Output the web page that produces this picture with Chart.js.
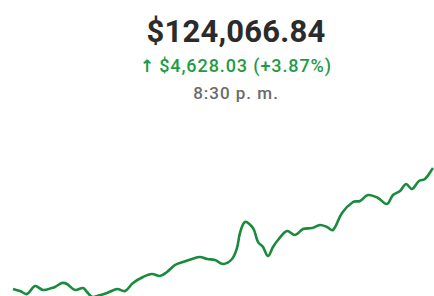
<!DOCTYPE html>
<html><head><meta charset="utf-8">
<script src="https://cdn.jsdelivr.net/npm/chart.js@4/dist/chart.umd.min.js"></script>
<style>
html,body{margin:0;padding:0;background:#fff;width:434px;height:296px;overflow:hidden;position:relative;}
.t{position:absolute;left:0;width:472px;text-align:center;font-family:Roboto,"Noto Sans",sans-serif;white-space:nowrap;}
#val{top:13px;font-size:31px;font-weight:700;color:#2b2b2b;letter-spacing:0.2px;}
#chg{top:55px;font-size:18px;font-weight:500;color:#1f9a46;letter-spacing:0.9px;}
#chg b{font-family:"DejaVu Sans",sans-serif;font-weight:700;font-size:17px;margin-right:4px;}
#time{top:83px;font-size:17px;font-weight:500;color:#6b6b6b;letter-spacing:1px;}
#wrap{position:absolute;left:0;top:150px;width:434px;height:150px;}
</style></head><body>
<div class="t" id="val">$124,066.84</div>
<div class="t" id="chg"><b>↑</b>$4,628.03 (+3.87%)</div>
<div class="t" id="time">8:30 p. m.</div>
<div id="wrap"><canvas id="c"></canvas></div>
<script>
const times = [13,20,27,35,43,52,55,62,67,75,83,87,92,97,107,117,125,133,143,152,160,167,175,183,192,200,207,215,223,232,237,240,245,253,258,263,268,273,278,287,295,303,312,320,327,333,342,353,360,368,378,387,393,400,406,412,419,425,433];
const values = [119439,119362,119247,119553,119401,119477,119515,119668,119630,119401,119477,119324,119133,119171,119286,119439,119362,119668,119898,120012,119936,120089,120357,120472,120586,120663,120586,120548,120395,120586,121007,121581,122002,121772,121237,121045,120701,121045,121313,121657,121504,121734,121772,121887,121810,121695,122346,122766,122805,123034,122920,122690,123034,123187,123455,123264,123570,123646,124067];
const pts = times.map((t,i)=>({x:t,y:values[i]}));
new Chart(document.getElementById('c'),{
  type:'line',
  data:{datasets:[{data:pts,borderColor:'#1a8a3c',borderWidth:2.6,pointRadius:0,tension:0.35,fill:false}]},
  options:{
    responsive:true,maintainAspectRatio:false,animation:false,
    layout:{padding:0},
    plugins:{legend:{display:false},tooltip:{enabled:false}},
    scales:{
      x:{type:'linear',min:0,max:434,display:false},
      y:{min:119018,max:124756,display:false}
    }
  }
});
</script>
</body></html>
